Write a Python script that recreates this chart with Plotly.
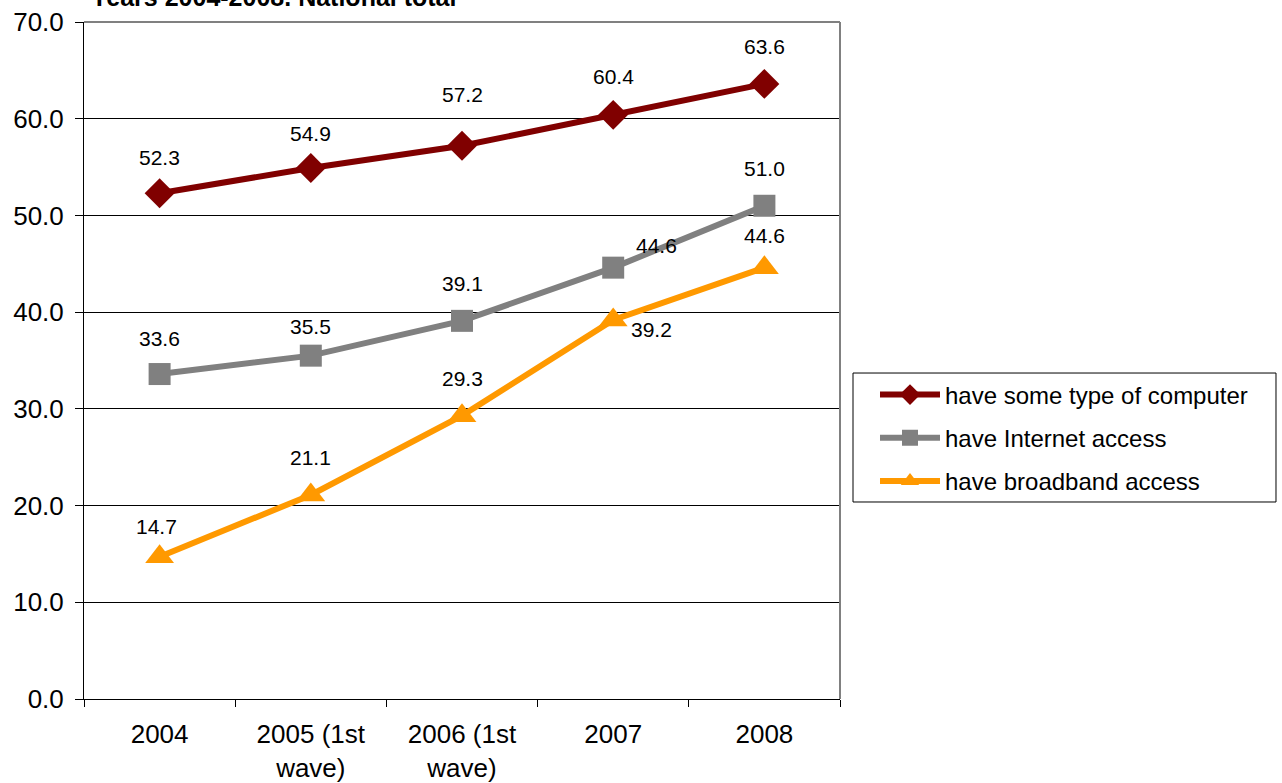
import plotly.graph_objects as go

categories = ["2004", "2005 (1st<br>wave)", "2006 (1st<br>wave)", "2007", "2008"]
computer = [52.3, 54.9, 57.2, 60.4, 63.6]
internet = [33.6, 35.5, 39.1, 44.6, 51.0]
broadband = [14.7, 21.1, 29.3, 39.2, 44.6]
y_ticks = [0, 10, 20, 30, 40, 50, 60, 70]

FONT = "Liberation Sans, Arial, sans-serif"

fig = go.Figure()
series = [
    ("have some type of computer", computer, "#800000", "diamond", 23),
    ("have Internet access", internet, "#808080", "square", 22),
    ("have broadband access", broadband, "#FF9900", "triangle-up", 25),
]
for gi, (name, vals, col, sym, sz) in enumerate(series):
    fig.add_trace(go.Scatter(
        x=list(range(len(categories))), y=vals, name=name, mode="lines+markers",
        line=dict(color=col, width=6), legendgroup=f"g{gi}",
        marker=dict(symbol=sym, size=sz, color=col),
    ))

# label offsets (dx, dy) in pixels
offsets = {
    0: [(0, 36), (0, 35), (0, 51), (0, 38), (0, 37)],
    1: [(0, 36), (0, 29), (0, 37), (43, 22), (0, 37)],
    2: [(-3, 30), (0, 37), (0, 37), (38, -10), (0, 32)],
}
annotations = []
for si, (name, vals, col, sym, sz) in enumerate(series):
    for i, v in enumerate(vals):
        dx, dy = offsets[si][i]
        annotations.append(dict(
            x=i, y=v, xref="x", yref="y", text=f"{v:.1f}",
            showarrow=False, xshift=dx, yshift=dy,
            font=dict(family=FONT, size=21, color="black"),
        ))
annotations.append(dict(
    x=0.006, y=1.0, xref="paper", yref="paper", xanchor="left", yanchor="bottom",
    yshift=9, text="<b>Years 2004-2008. National total</b>", showarrow=False,
    font=dict(family=FONT, size=25, color="black"),
))

fig.update_layout(
    width=1282, height=783,
    margin=dict(l=84, r=442, t=22, b=84, autoexpand=False),
    paper_bgcolor="white", plot_bgcolor="white",
    font=dict(family=FONT, color="black"),
    annotations=annotations,
    showlegend=True,
    legend=dict(
        x=1.0463, y=0.3855, xanchor="left", yanchor="middle",
        bgcolor="rgba(0,0,0,0)", borderwidth=0,
        font=dict(family=FONT, size=24, color="black"),
        itemwidth=60, tracegroupgap=9,
    ),
    xaxis=dict(
        range=[-0.5, 4.5], tickvals=list(range(len(categories))), ticktext=categories,
        ticks="", showline=True, linecolor="black", linewidth=1,
        showgrid=False, zeroline=False, tickfont=dict(family=FONT, size=26),
        ticklabelstandoff=12, automargin=False,
        minor=dict(tickvals=[-0.5, 0.5, 1.5, 2.5, 3.5, 4.5], ticks="outside",
                   ticklen=7, tickcolor="black", showgrid=False),
    ),
    yaxis=dict(
        range=[0, 70], tickvals=y_ticks, ticktext=[f"{t:.1f}" for t in y_ticks],
        ticks="outside", ticklen=8, tickcolor="black",
        showline=True, linecolor="black", linewidth=1,
        showgrid=True, gridcolor="black", gridwidth=1,
        zeroline=False, tickfont=dict(family=FONT, size=26),
        ticklabelstandoff=6, automargin=False,
    ),
    shapes=[
        dict(type="line", xref="paper", yref="paper", x0=0, x1=1, y0=1, y1=1,
             line=dict(color="#808080", width=2)),
        dict(type="line", xref="paper", yref="paper", x0=1, x1=1, y0=0, y1=1,
             line=dict(color="#808080", width=2)),
        dict(type="rect", xref="paper", yref="paper", x0=1.0172, x1=1.5767,
             y0=0.2910, y1=0.4815, line=dict(color="black", width=1),
             fillcolor="rgba(0,0,0,0)"),
    ],
)

fig.write_html("out.html")
